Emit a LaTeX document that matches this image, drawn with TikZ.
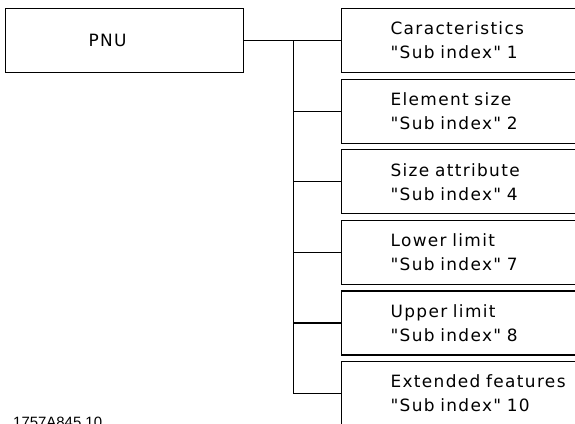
\documentclass[tikz,border=0pt]{standalone}
\usepackage{fontspec}
\setmainfont{Liberation Sans}
\newfontfamily\cadfont[LetterSpace=8, WordSpace=2.2]{DejaVu Sans}
\usetikzlibrary{positioning}

\begin{document}
\begin{tikzpicture}[
    x=1bp, y=-1bp,
    node distance=5.5bp,
    pnubox/.style={rectangle, draw, line width=1.1bp, minimum width=238bp, minimum height=64bp, inner xsep=83bp, text width=72bp, align=left, font=\cadfont\fontsize{17}{24}\selectfont},
    subbox/.style={rectangle, draw, line width=1.1bp, minimum height=64bp, inner xsep=49bp, inner ysep=0pt, text width=220bp, align=left, font=\cadfont\fontsize{17}{24}\selectfont},
    link/.style={line width=1.1bp}
]
    \useasboundingbox (0,0) rectangle (575,423);

    \node[pnubox, anchor=north west] (pnu) at (5,8) {PNU};

    \node[subbox, anchor=north west] (sub1) at (341,8) {Caracteristics\\"Sub index" 1};
    \node[subbox, below=of sub1] (sub2) {Element size\\"Sub index" 2};
    \node[subbox, below=of sub2] (sub3) {Size attribute\\"Sub index" 4};
    \node[subbox, below=of sub3] (sub4) {Lower limit\\"Sub index" 7};
    \node[subbox, below=of sub4] (sub5) {Upper limit\\"Sub index" 8};
    \node[subbox, below=of sub5] (sub6) {Extended features\\"Sub index" 10};

    \node[font=\fontsize{15}{18}\selectfont, anchor=base west, inner sep=0pt] (code) at (13,427) {1757A845.10};

    \coordinate[right=49bp of pnu.east] (trunk);
    \draw[link] (pnu.east) -- (sub1.west);
    \draw[link] (trunk) -- (trunk |- sub6.west);
    \foreach \n in {2,...,6}
        \draw[link] (trunk |- sub\n.west) -- (sub\n.west);
\end{tikzpicture}
\end{document}
